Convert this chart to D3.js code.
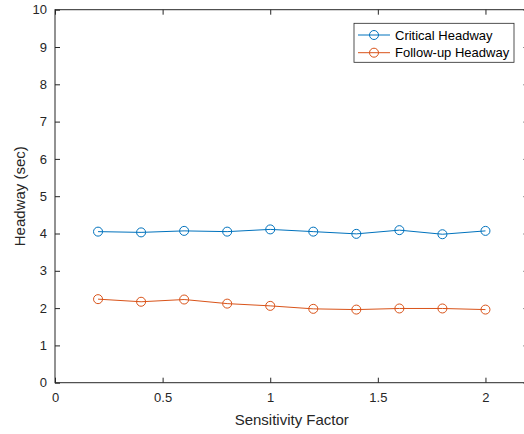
<!DOCTYPE html>
<html><head><meta charset="utf-8">
<script src="https://cdn.jsdelivr.net/npm/d3@7"></script>
<style>body{margin:0;background:#fff}svg{display:block}text{font-family:"Liberation Sans",Arial,sans-serif}</style>
</head><body>
<svg id="c" width="524" height="434"></svg>
<script>
const sensitivity = [0.2,0.4,0.6,0.8,1.0,1.2,1.4,1.6,1.8,2.0];
const criticalHeadway = [4.05,4.03,4.07,4.05,4.11,4.05,3.99,4.09,3.98,4.07];
const followUpHeadway = [2.24,2.17,2.23,2.12,2.06,1.98,1.96,1.99,1.99,1.96];
const seriesNames = ["Critical Headway","Follow-up Headway"];
const xTicks = [0,0.5,1,1.5,2];
const yTicks = [0,1,2,3,4,5,6,7,8,9,10];

const svg = d3.select("#c");
const L=55, R=528.5, T=9.7, B=382.7;
const x = d3.scaleLinear().domain([0,2.2]).range([L,R]);
const y = d3.scaleLinear().domain([0,10]).range([B,T]);
const axisColor="#262626";
const colors=["#0072BD","#D95319"];

// box
svg.append("rect").attr("x",L).attr("y",T).attr("width",R-L).attr("height",B-T)
  .attr("fill","none").attr("stroke",axisColor).attr("stroke-width",1);

// axes
const xa = svg.append("g").attr("transform",`translate(0,${B})`)
  .call(d3.axisBottom(x).tickValues(xTicks).tickFormat(d3.format("")).tickSizeInner(-5).tickSizeOuter(0).tickPadding(10));
const xt = svg.append("g").attr("transform",`translate(0,${T})`)
  .call(d3.axisTop(x).tickValues(xTicks).tickFormat("").tickSizeInner(-5).tickSizeOuter(0));
const ya = svg.append("g").attr("transform",`translate(${L},0)`)
  .call(d3.axisLeft(y).tickValues(yTicks).tickFormat(d3.format("")).tickSizeInner(-5).tickSizeOuter(0).tickPadding(8));
const yr = svg.append("g").attr("transform",`translate(${R},0)`)
  .call(d3.axisRight(y).tickValues(yTicks).tickFormat("").tickSizeInner(-5).tickSizeOuter(0));
[xa,xt,ya,yr].forEach(g=>{
  g.select(".domain").remove();
  g.selectAll(".tick line").attr("stroke",axisColor);
  g.selectAll("text").attr("fill",axisColor).attr("font-size",13);
});

// labels
svg.append("text").attr("x",(L+R)/2).attr("y",425).attr("text-anchor","middle")
  .attr("font-size",15).attr("fill",axisColor).text("Sensitivity Factor");
svg.append("text").attr("transform",`translate(25,${(T+B)/2}) rotate(-90)`).attr("text-anchor","middle")
  .attr("font-size",15).attr("fill",axisColor).text("Headway (sec)");

// series
const data=[criticalHeadway,followUpHeadway];
const line=d3.line().x((d,i)=>x(sensitivity[i])).y(d=>y(d));
data.forEach((vals,k)=>{
  svg.append("path").datum(vals).attr("d",line).attr("fill","none")
    .attr("stroke",colors[k]).attr("stroke-width",1);
  svg.append("g").selectAll("circle").data(vals).join("circle")
    .attr("cx",(d,i)=>x(sensitivity[i])).attr("cy",d=>y(d)).attr("r",4.5)
    .attr("fill","none").attr("stroke",colors[k]).attr("stroke-width",1);
});

// legend
const lg=svg.append("g");
lg.append("rect").attr("x",354).attr("y",23.3).attr("width",160).attr("height",39)
  .attr("fill","#fff").attr("stroke",axisColor).attr("stroke-width",0.8);
seriesNames.forEach((n,k)=>{
  const yy=35+k*17.7;
  lg.append("line").attr("x1",358).attr("x2",390).attr("y1",yy).attr("y2",yy).attr("stroke",colors[k]);
  lg.append("circle").attr("cx",374).attr("cy",yy).attr("r",4.5).attr("fill","none").attr("stroke",colors[k]);
  lg.append("text").attr("x",395).attr("y",yy+4.5).attr("font-size",13).attr("fill","#000").text(n);
});
</script>
</body></html>
